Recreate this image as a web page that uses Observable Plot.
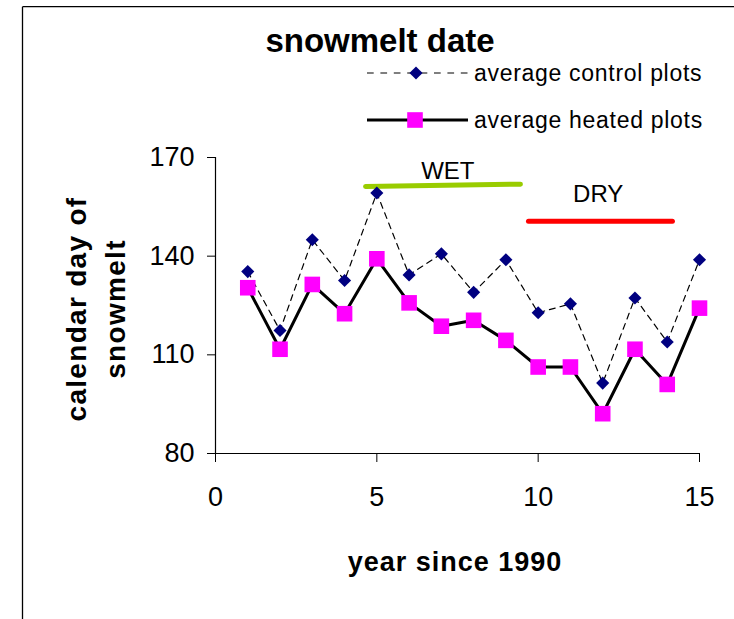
<!DOCTYPE html>
<html>
<head>
<meta charset="utf-8">
<script src="https://cdn.jsdelivr.net/npm/d3@7"></script>
<script src="https://cdn.jsdelivr.net/npm/@observablehq/plot@0.6"></script>
<style>
  html, body { margin: 0; padding: 0; background: white; }
  svg { display: block; }
</style>
</head>
<body>
<div id="chart"></div>
<script>
const years = [1, 2, 3, 4, 5, 6, 7, 8, 9, 10, 11, 12, 13, 14, 15];
const controlValues = [135.3, 117.4, 145, 132.6, 159.2, 134.3, 140.7, 129, 138.9, 122.8, 125.5, 101.4, 127.3, 113.9, 138.9];
const heatedValues = [130.4, 111.7, 131.4, 122.5, 139.2, 125.8, 118.7, 120.5, 114.4, 106.3, 106.3, 92.1, 111.7, 101, 124.2];
const xTicks = [0, 5, 10, 15];
const yTicks = [80, 110, 140, 170];
const seriesLabels = ["average control plots", "average heated plots"];
const wetPeriod = [{x: 4.65, y: 161.2}, {x: 9.45, y: 161.9}];
const dryPeriod = [{x: 9.7, y: 150.6}, {x: 14.16, y: 150.6}];
const periodLabels = [{x: 7.2, y: 165.9, text: "WET"}, {x: 11.86, y: 158.9, text: "DRY"}];

const control = years.map((x, i) => ({x, y: controlValues[i]}));
const heated = years.map((x, i) => ({x, y: heatedValues[i]}));

const font = "'Liberation Sans', Arial, sans-serif";
const diamondR = 5.9;
const squareR = 8.8;

const chart = Plot.plot({
  width: 734,
  height: 619,
  marginLeft: 215,
  marginRight: 35,
  marginTop: 157,
  marginBottom: 166,
  style: {fontFamily: font, background: "white", color: "black", overflow: "visible"},
  x: {domain: [0, 15], ticks: xTicks},
  y: {domain: [80, 170], ticks: yTicks},
  marks: [
    Plot.axisY({ticks: yTicks, tickSize: 8, tickPadding: 13, fontSize: 27, label: null, strokeWidth: 1}),
    Plot.axisX({ticks: xTicks, tickSize: 9, tickPadding: 24, fontSize: 27, label: null, strokeWidth: 1}),
    Plot.ruleX([0], {strokeWidth: 1.2}),
    Plot.ruleY([80], {strokeWidth: 1.2}),
    Plot.line(wetPeriod, {x: "x", y: "y", stroke: "#99cc00", strokeWidth: 5}),
    Plot.line(dryPeriod, {x: "x", y: "y", stroke: "#ff0000", strokeWidth: 5}),
    Plot.text(periodLabels, {x: "x", y: "y", text: "text", fontSize: 24, fill: "black"}),
    Plot.line(control, {x: "x", y: "y", stroke: "black", strokeWidth: 1.2, strokeDasharray: "6,5"}),
    Plot.line(heated, {x: "x", y: "y", stroke: "black", strokeWidth: 3}),
    Plot.dot(control, {x: "x", y: "y", symbol: "diamond2", r: diamondR, fill: "#000080", stroke: "none"}),
    Plot.dot(heated, {x: "x", y: "y", symbol: "square", r: squareR, fill: "#ff00ff", stroke: "none"})
  ]
});

const svg = d3.select(chart);

// frame lines (left and top)
svg.append("line").attr("x1", 22.5).attr("y1", 6.7).attr("x2", 22.5).attr("y2", 619).attr("stroke", "black").attr("stroke-width", 1.3);
svg.append("line").attr("x1", 22.5).attr("y1", 6.7).attr("x2", 734).attr("y2", 6.7).attr("stroke", "black").attr("stroke-width", 1.3);

// title
svg.append("text").attr("x", 380).attr("y", 52).attr("text-anchor", "middle")
  .attr("font-family", font).attr("font-weight", "bold").attr("font-size", 33)
  .text("snowmelt date");

// legend
const lg = svg.append("g");
lg.append("line").attr("x1", 367).attr("x2", 468).attr("y1", 73).attr("y2", 73)
  .attr("stroke", "#555").attr("stroke-width", 1.3).attr("stroke-dasharray", "6.7,6.7");
lg.append("path").attr("d", d3.symbol(d3.symbolDiamond2, Math.PI * diamondR * diamondR)()).attr("transform", "translate(416,73)").attr("fill", "#000080");
lg.append("line").attr("x1", 367).attr("x2", 468).attr("y1", 120).attr("y2", 120)
  .attr("stroke", "black").attr("stroke-width", 3);
lg.append("rect").attr("x", 415 - 7.8).attr("y", 120 - 7.8).attr("width", 15.6).attr("height", 15.6).attr("fill", "#ff00ff");
lg.selectAll("text.lt").data(seriesLabels).join("text")
  .attr("class", "lt")
  .attr("x", 474).attr("y", (d, i) => 81 + i * 47)
  .attr("text-anchor", "start")
  .attr("font-family", font).attr("font-size", 23).attr("letter-spacing", 0.7)
  .text(d => d);

// axis titles
svg.append("text").attr("x", 455).attr("y", 571).attr("text-anchor", "middle")
  .attr("font-family", font).attr("font-weight", "bold").attr("font-size", 27).attr("letter-spacing", 1)
  .text("year since 1990");
const yl = svg.append("text").attr("transform", "translate(0,309) rotate(-90)")
  .attr("text-anchor", "middle").attr("font-family", font).attr("font-weight", "bold")
  .attr("font-size", 28).attr("letter-spacing", 1.3);
yl.append("tspan").attr("x", 0).attr("y", 86).text("calendar day of");
yl.append("tspan").attr("x", 0).attr("y", 125).text("snowmelt");

document.getElementById("chart").appendChild(chart);
</script>
</body>
</html>
